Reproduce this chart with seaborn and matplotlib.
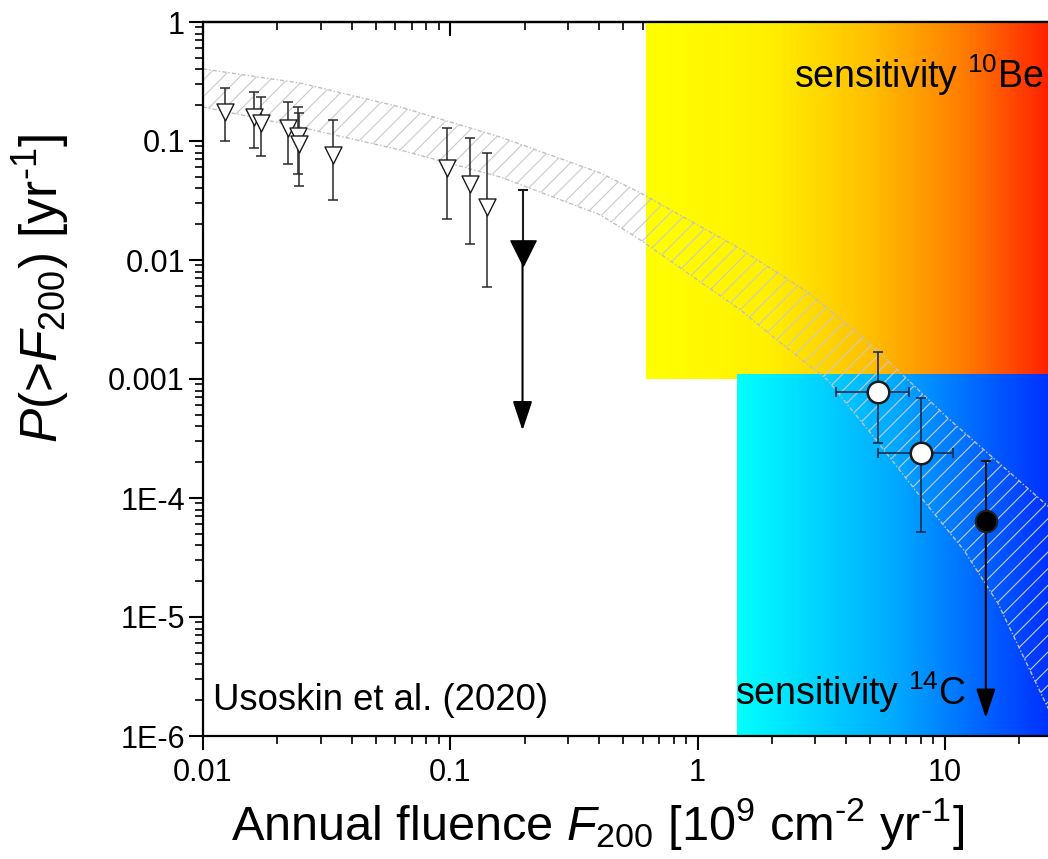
import numpy as np
import matplotlib
matplotlib.use("Agg")
import matplotlib.pyplot as plt
import seaborn as sns
import pandas as pd
from matplotlib.colors import LinearSegmentedColormap
from matplotlib.ticker import FixedLocator, FixedFormatter, LogLocator, NullFormatter

# ---------------- data ----------------
# Open triangles: direct (instrumental era) events
tri_f = [0.0123, 0.0161, 0.0172, 0.0220, 0.0242, 0.0245, 0.0337, 0.0969, 0.1205, 0.1408]
tri_p = [0.176, 0.160, 0.1425, 0.128, 0.110, 0.0944, 0.0763, 0.0597, 0.0435, 0.0280]
tri_p_hi = [0.277, 0.257, 0.236, 0.211, 0.192, 0.173, 0.149, 0.1286, 0.107, 0.0788]
tri_p_lo = [0.1007, 0.0879, 0.0752, 0.0641, 0.0528, 0.0419, 0.0319, 0.0222, 0.01355, 0.00597]

# Filled triangle: upper limit
lim_tri_f = [0.196]
lim_tri_p = [0.0115]
lim_tri_p_hi = [0.0387]
lim_tri_p_arrow = [3.7e-4]

# Open circles: cosmogenic-isotope events
circ_f = [5.39, 8.05]
circ_f_lo = [3.62, 5.39]
circ_f_hi = [7.17, 10.8]
circ_p = [7.82e-4, 2.38e-4]
circ_p_hi = [1.68e-3, 6.89e-4]
circ_p_lo = [2.88e-4, 5.15e-5]

# Filled circle: upper limit
lim_circ_f = [14.66]
lim_circ_p = [6.41e-5]
lim_circ_p_hi = [2.05e-4]
lim_circ_p_arrow = [1.42e-6]

# Model uncertainty band
band_up_f = [0.01, 0.0247, 0.0628, 0.1594, 0.405, 0.5877, 1.493, 2.788, 5.16, 10.28, 26.4]
band_up_p = [0.403, 0.307, 0.193, 0.108, 0.0538, 0.0366, 0.01238, 0.00538, 0.00186, 4.70e-4, 8.40e-5]
band_lo_f = [0.01, 0.0247, 0.0628, 0.1594, 0.405, 0.5877, 1.493, 2.168, 3.36, 5.16, 7.99,
             11.94, 16.39, 26.4]
band_lo_p = [0.193, 0.131, 0.0840, 0.0498, 0.0239, 0.01473, 0.00380, 0.00201, 9.81e-4,
             3.26e-4, 1.02e-4, 3.66e-5, 1.31e-5, 1.65e-6]

# Sensitivity ranges of the two cosmogenic isotopes
be10_f = [0.62, 26.4]
be10_p = [1e-3, 1.0]
c14_f = [1.45, 26.4]
c14_p = [1e-6, 1.1e-3]

x_range = [0.01, 26.4]
y_range = [1e-6, 1.0]
x_ticks = [0.01, 0.1, 1, 10]
x_tick_labels = ["0.01", "0.1", "1", "10"]
y_ticks = [1e-6, 1e-5, 1e-4, 1e-3, 1e-2, 1e-1, 1]
y_tick_labels = ["1E-6", "1E-5", "1E-4", "0.001", "0.01", "0.1", "1"]

# ---------------- style ----------------
sns.set_theme(style="ticks")
plt.rcParams["font.family"] = ["Liberation Sans", "DejaVu Sans"]
plt.rcParams["mathtext.fontset"] = "custom"
plt.rcParams["mathtext.rm"] = "Liberation Sans"
plt.rcParams["mathtext.it"] = "Liberation Sans:italic"
plt.rcParams["mathtext.bf"] = "Liberation Sans:bold"
plt.rcParams["hatch.color"] = "#c4c4c4"
plt.rcParams["hatch.linewidth"] = 0.8
for key in ["text.color", "axes.labelcolor", "xtick.color", "ytick.color",
            "xtick.labelcolor", "ytick.labelcolor", "axes.edgecolor"]:
    plt.rcParams[key] = "black"

fig = plt.figure(figsize=(10.48, 8.59), dpi=100)
ax = fig.add_axes([203 / 1048, 123 / 859, 846 / 1048, 714 / 859])
ax.set_xscale("log")
ax.set_yscale("log")
ax.set_xlim(*x_range)
ax.set_ylim(*y_range)

# ---------------- gradient boxes ----------------
def gradient_box(xs, ys, stops):
    cmap = LinearSegmentedColormap.from_list("g", stops)
    edges = np.geomspace(xs[0], xs[1], 301)
    vals = np.linspace(0, 1, 300)[None, :]
    ax.pcolormesh(edges, ys, vals, cmap=cmap, shading="flat", zorder=1,
                  rasterized=True, linewidth=0, antialiased=False)

gradient_box(be10_f, be10_p, [(0.0, "#ffff00"), (0.3, "#fff000"), (0.55, "#ffc000"),
                              (0.78, "#ff8000"), (1.0, "#ff2200")])
gradient_box(c14_f, c14_p, [(0.0, "#00ffff"), (0.5, "#00aaff"), (1.0, "#0030ff")])

# ---------------- uncertainty band ----------------
poly_f = np.concatenate([band_up_f, band_lo_f[::-1]])
poly_p = np.concatenate([band_up_p, band_lo_p[::-1]])
ax.fill(poly_f, poly_p, facecolor="none", edgecolor="#cacaca", linewidth=0,
        hatch="//", zorder=2)
band_ls = (0, (3, 1.5, 1, 1.5))
ax.plot(band_up_f, band_up_p, color="#c0c0c0", lw=1.0, ls=band_ls, zorder=2.1)
ax.plot(band_lo_f, band_lo_p, color="#c0c0c0", lw=1.0, ls=band_ls, zorder=2.1)

# ---------------- error bars ----------------
ebar = "#2a2a2a"
tri_f_a = np.array(tri_f)
tri_p_a = np.array(tri_p)
ax.errorbar(tri_f_a, tri_p_a,
            yerr=[tri_p_a - np.array(tri_p_lo), np.array(tri_p_hi) - tri_p_a],
            fmt="none", ecolor=ebar, elinewidth=1.1, capsize=3.5, capthick=1.1, zorder=3)

cf = np.array(circ_f)
cp = np.array(circ_p)
ax.errorbar(cf, cp,
            xerr=[cf - np.array(circ_f_lo), np.array(circ_f_hi) - cf],
            yerr=[cp - np.array(circ_p_lo), np.array(circ_p_hi) - cp],
            fmt="none", ecolor="#1c2c4c", elinewidth=1.2, capsize=3.5, capthick=1.2, zorder=3)

# Upper-limit bars with downward arrows
for f, p, hi, lo in [(lim_tri_f[0], lim_tri_p[0], lim_tri_p_hi[0], lim_tri_p_arrow[0]),
                     (lim_circ_f[0], lim_circ_p[0], lim_circ_p_hi[0], lim_circ_p_arrow[0])]:
    ax.errorbar([f], [p], yerr=[[0], [hi - p]], fmt="none", ecolor="#1a1a1a",
                elinewidth=1.5, capsize=3.5, capthick=1.5, zorder=3)
    ax.annotate("", xy=(f, lo), xytext=(f, p),
                arrowprops=dict(arrowstyle="-|>,head_length=0.9,head_width=0.3",
                                mutation_scale=20, color="black", lw=1.5,
                                shrinkA=0, shrinkB=0), zorder=3)

# ---------------- markers ----------------
df_tri = pd.DataFrame({"F": tri_f, "P": tri_p})
sns.scatterplot(data=df_tri, x="F", y="P", marker="v", s=150, facecolor="white",
                edgecolor="#1a1a1a", linewidth=1.0, ax=ax, zorder=4)
df_lt = pd.DataFrame({"F": lim_tri_f, "P": lim_tri_p})
sns.scatterplot(data=df_lt, x="F", y="P", marker="v", s=330, color="black",
                edgecolor="black", linewidth=1.0, ax=ax, zorder=4)
df_c = pd.DataFrame({"F": circ_f, "P": circ_p})
sns.scatterplot(data=df_c, x="F", y="P", marker="o", s=240, facecolor="white",
                edgecolor="#1a1a1a", linewidth=1.8, ax=ax, zorder=4)
df_lc = pd.DataFrame({"F": lim_circ_f, "P": lim_circ_p})
sns.scatterplot(data=df_lc, x="F", y="P", marker="o", s=240, color="black",
                edgecolor="#222222", linewidth=1.5, ax=ax, zorder=4)

# ---------------- text ----------------
ax.text(0.994, 0.9076, r"sensitivity $^{10}$Be", transform=ax.transAxes,
        ha="right", va="baseline", fontsize=27, color="black", zorder=5)
ax.text(0.629, 0.043, r"sensitivity $^{14}$C", transform=ax.transAxes,
        ha="left", va="baseline", fontsize=27, color="black", zorder=5)
ax.text(0.012, 0.036, "Usoskin et al. (2020)", transform=ax.transAxes,
        ha="left", va="baseline", fontsize=26.3, color="black", zorder=5)

ax.set_xlabel("Annual fluence $\\mathit{F}_{200}$ [10$^{9}$ cm$^{\u20102}$ yr$^{\u20101}$]",
              fontsize=35, color="black")
ax.set_ylabel("$\\mathit{P}$(>$\\mathit{F}_{200}$) [yr$^{\u20101}$]", fontsize=37,
              color="black")
ax.xaxis.set_label_coords(0.466, -0.084)
ax.yaxis.set_label_coords(-0.155, 0.627)

# ---------------- axes & ticks ----------------
ax.xaxis.set_major_locator(FixedLocator(x_ticks))
ax.xaxis.set_major_formatter(FixedFormatter(x_tick_labels))
ax.yaxis.set_major_locator(FixedLocator(y_ticks))
ax.yaxis.set_major_formatter(FixedFormatter(y_tick_labels))
ax.xaxis.set_minor_locator(LogLocator(base=10, subs=np.arange(2, 10), numticks=20))
ax.yaxis.set_minor_locator(LogLocator(base=10, subs=np.arange(2, 10), numticks=20))
ax.xaxis.set_minor_formatter(NullFormatter())
ax.yaxis.set_minor_formatter(NullFormatter())

ax.tick_params(axis="both", which="major", labelsize=22, length=10, width=1.5,
               color="black", labelcolor="black")
ax.tick_params(axis="x", which="major", pad=6)
ax.tick_params(axis="y", which="major", pad=3)
ax.tick_params(axis="both", which="minor", length=5.5, width=1.2, color="black")
ax.tick_params(axis="x", which="both", direction="out", bottom=True, top=False)
ax.tick_params(axis="y", which="both", direction="out", left=True, right=False)

for side in ["left", "bottom", "top"]:
    ax.spines[side].set_linewidth(1.6)
    ax.spines[side].set_color("black")
ax.spines["right"].set_visible(False)

# top axis with inward ticks
sec = ax.secondary_xaxis("top")
sec.set_xscale("log")
sec.xaxis.set_major_locator(FixedLocator(x_ticks))
sec.xaxis.set_minor_locator(LogLocator(base=10, subs=np.arange(2, 10), numticks=20))
sec.xaxis.set_major_formatter(NullFormatter())
sec.xaxis.set_minor_formatter(NullFormatter())
sec.tick_params(which="major", direction="in", length=10, width=1.5, color="black")
sec.tick_params(which="minor", direction="in", length=5.5, width=1.2, color="black")
sec.spines["top"].set_linewidth(1.6)
sec.spines["top"].set_color("black")

ax.set_facecolor("white")
fig.patch.set_facecolor("white")
fig.savefig("out.png", dpi=100, facecolor="white")
